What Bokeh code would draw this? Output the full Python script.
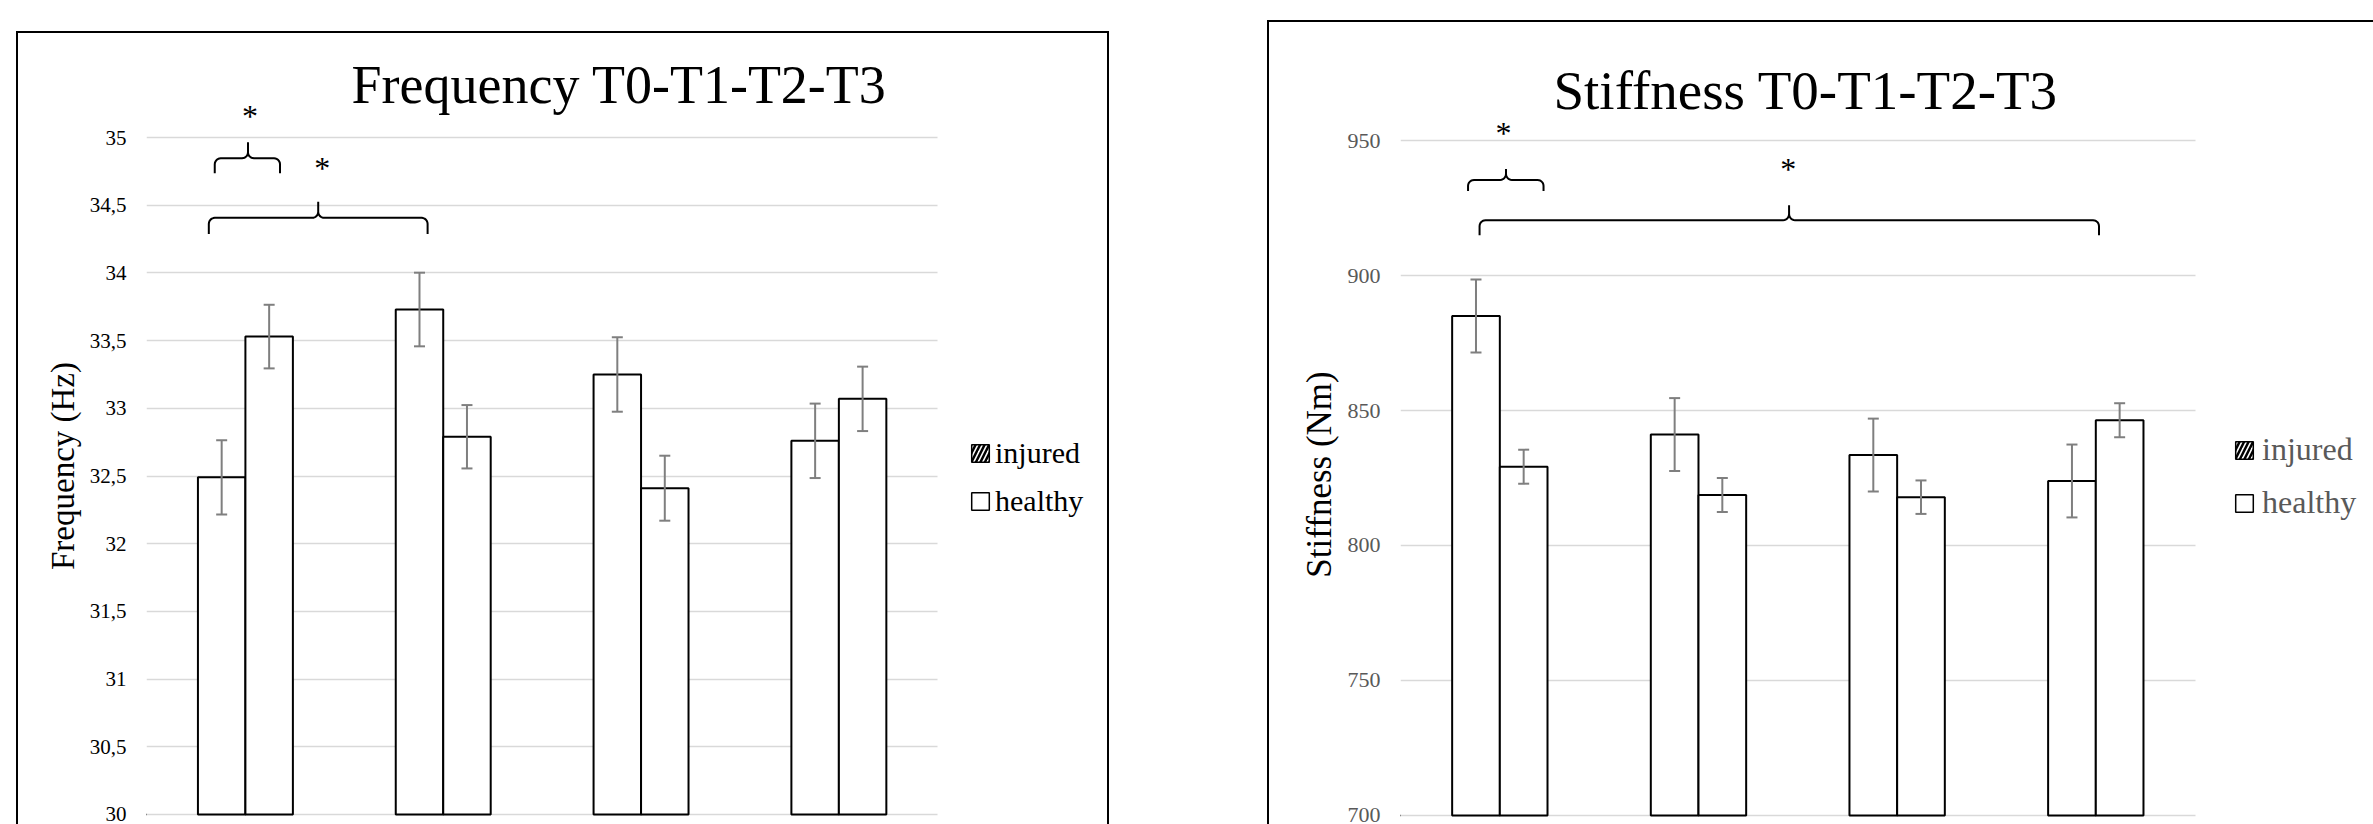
from math import pi, cos, sin
from bokeh.plotting import figure
from bokeh.models import (FixedTicker, Legend, LegendItem, Whisker, TeeHead,
                          ColumnDataSource, Range1d, Spacer, Title)
from bokeh.layouts import row, column
from bokeh.embed import file_html
from bokeh.resources import INLINE
from bokeh.core.properties import value

# ---------------- data ----------------
categories = ["T0", "T1", "T2", "T3"]
series = ["injured", "healthy"]

freq_injured = [32.49, 33.73, 33.25, 32.76]
freq_injured_err = [0.275, 0.272, 0.275, 0.275]
freq_healthy = [33.53, 32.79, 32.41, 33.07]
freq_healthy_err = [0.235, 0.234, 0.240, 0.238]

stiff_injured = [885.0, 841.1, 833.5, 823.9]
stiff_injured_err = [13.5, 13.5, 13.5, 13.5]
stiff_healthy = [829.2, 818.7, 817.9, 846.4]
stiff_healthy_err = [6.3, 6.3, 6.2, 6.3]

freq_ticks = [30, 30.5, 31, 31.5, 32, 32.5, 33, 33.5, 34, 34.5, 35]
freq_tick_labels = ["30", "30,5", "31", "31,5", "32", "32,5", "33", "33,5", "34", "34,5", "35"]
stiff_ticks = [700, 750, 800, 850, 900, 950]
stiff_tick_labels = ["700", "750", "800", "850", "900", "950"]

freq_title = "Frequency T0-T1-T2-T3"
stiff_title = "Stiffness T0-T1-T2-T3"
freq_ylabel = "Frequency (Hz)"
stiff_ylabel = "Stiffness (Nm)"

# significance brackets (x in category-index units, y in data units)
freq_br_x0 = [0.345, 0.315]
freq_br_x1 = [0.675, 1.421]
freq_br_tip = [0.513, 0.868]
freq_br_y = [34.847, 34.407]
freq_star_x = [0.523, 0.888]
freq_star_y = [35.163, 34.778]

stiff_br_x0 = [0.340, 0.398]
stiff_br_x1 = [0.720, 3.516]
stiff_br_tip = [0.531, 1.956]
stiff_br_y = [935.4, 920.5]
stiff_star_x = [0.518, 1.952]
stiff_star_y = [952.7, 939.6]

FONT = "Liberation Serif"
GRID = "#d9d9d9"
ERR = "#7f7f7f"
BAR_OFF = 0.12
BAR_W = 0.24
N = len(categories)


def brace(x0, x1, tip, y, drop, rise, rx, ry, n=6):
    xs, ys = [x0], [y - drop]
    for k in range(n + 1):
        a = pi - (pi / 2) * k / n
        xs.append(x0 + rx + rx * cos(a)); ys.append(y - ry + ry * sin(a))
    for k in range(n + 1):
        a = -pi / 2 + (pi / 2) * k / n
        xs.append(tip - rx + rx * cos(a)); ys.append(y + ry + ry * sin(a))
    xs.append(tip); ys.append(y + rise)
    for k in range(n + 1):
        a = pi + (pi / 2) * k / n
        xs.append(tip + rx + rx * cos(a)); ys.append(y + ry + ry * sin(a))
    for k in range(n + 1):
        a = pi / 2 - (pi / 2) * k / n
        xs.append(x1 - rx + rx * cos(a)); ys.append(y - ry + ry * sin(a))
    xs.append(x1); ys.append(y - drop)
    return xs, ys


def panel(width, height, border_lr, border_t, mb_left, mb_top, grid_w, y_range, base,
          inj, inj_err, hea, hea_err, ticks, tick_labels, tick_color, tick_size,
          ylabel, ylabel_size, ylabel_standoff, title, title_offset, title_size,
          title_standoff,
          br_x0, br_x1, br_tip, br_y, br_drop_px, br_rise_px, star_x, star_y,
          leg_color, leg_size, leg_loc, leg_label_h, leg_spacing, leg_standoff,
          styles):
    canvas_w = width - border_lr
    canvas_h = height - border_t
    frame_w = canvas_w - mb_left
    frame_h = canvas_h - mb_top
    x_end = N * frame_w / grid_w
    p = figure(width=width, height=height, x_range=Range1d(0, x_end),
               y_range=Range1d(*y_range), output_backend="svg", toolbar_location=None,
               title=None, x_axis_location=None, min_border_left=mb_left,
               min_border_right=0, min_border_top=mb_top, min_border_bottom=0,
               outline_line_color=None, background_fill_color="white",
               border_fill_color="white", styles=styles)
    px_x = grid_w / N
    px_y = frame_h / (y_range[1] - y_range[0])

    t = Title(text=title, text_font=FONT, text_font_size=title_size,
              text_font_style="normal", text_color="black", align="left",
              offset=title_offset, vertical_align="bottom")
    try:
        t.standoff = title_standoff
    except Exception:
        t.standoff = 0
    p.add_layout(t, "above")

    p.xgrid.visible = False
    g = p.ygrid[0]
    g.ticker = FixedTicker(ticks=ticks)
    g.grid_line_color = GRID
    g.grid_line_width = 1.5
    if "cross_bounds" in g.properties():
        g.cross_bounds = (0, N)
    else:
        g.visible = False
        p.segment(x0=[0] * len(ticks), x1=[N] * len(ticks), y0=ticks, y1=ticks,
                  line_color=GRID, line_width=1.5, level="underlay")

    ax = p.yaxis[0]
    ax.ticker = FixedTicker(ticks=ticks)
    ax.major_label_overrides = {t_: l for t_, l in zip(ticks, tick_labels)}
    ax.axis_line_color = None
    ax.major_tick_line_color = None
    ax.minor_tick_line_color = None
    ax.major_tick_out = 0
    ax.major_tick_in = 0
    ax.major_label_standoff = 20
    ax.major_label_text_font = FONT
    ax.major_label_text_font_size = tick_size
    ax.major_label_text_color = tick_color
    ax.axis_label = ylabel
    ax.axis_label_text_font = FONT
    ax.axis_label_text_font_size = ylabel_size
    ax.axis_label_text_font_style = "normal"
    ax.axis_label_text_color = "black"
    ax.axis_label_standoff = ylabel_standoff

    xi = [i + 0.5 - BAR_OFF for i in range(N)]
    xh = [i + 0.5 + BAR_OFF for i in range(N)]
    p.vbar(x=xi, top=inj, bottom=base, width=BAR_W, fill_color="white",
           line_color="black", line_width=2)
    p.vbar(x=xh, top=hea, bottom=base, width=BAR_W, fill_color="white",
           line_color="black", line_width=2)

    for xs_, v, e in ((xi, inj, inj_err), (xh, hea, hea_err)):
        src = ColumnDataSource(dict(x=xs_, upper=[a + b for a, b in zip(v, e)],
                                    lower=[a - b for a, b in zip(v, e)]))
        w = Whisker(source=src, base="x", upper="upper", lower="lower",
                    dimension="height", line_color=ERR, line_width=2, level="overlay",
                    upper_head=TeeHead(size=11, line_color=ERR, line_width=2),
                    lower_head=TeeHead(size=11, line_color=ERR, line_width=2))
        p.add_layout(w)

    rx = 6 / px_x
    ry = 6 / px_y
    bxs, bys = [], []
    for x0, x1, tp, yy, dr, rs in zip(br_x0, br_x1, br_tip, br_y, br_drop_px, br_rise_px):
        a, b = brace(x0, x1, tp, yy, dr / px_y, rs / px_y, rx, ry)
        bxs.append(a); bys.append(b)
    p.multi_line(xs=bxs, ys=bys, line_color="black", line_width=2)
    p.text(x=star_x, y=star_y, text=["*"] * len(star_x), text_font=value(FONT),
           text_font_size="32px", text_align="center", text_baseline="alphabetic",
           text_color="black")

    # legend-only renderers placed outside the visible x range
    r_inj = p.vbar(x=[-10], top=[base], bottom=base, width=0.1, fill_color="white",
                   line_color="black", line_width=1.5, hatch_pattern="/",
                   hatch_color="black", hatch_weight=2.5, hatch_scale=9)
    r_hea = p.vbar(x=[-10], top=[base], bottom=base, width=0.1, fill_color="white",
                   line_color="black", line_width=1.5)
    leg = Legend(items=[LegendItem(label=series[0], renderers=[r_inj]),
                        LegendItem(label=series[1], renderers=[r_hea])],
                 location=leg_loc, orientation="vertical",
                 label_text_font=FONT, label_text_font_size=leg_size,
                 label_text_color=leg_color, label_height=leg_label_h,
                 glyph_width=22, glyph_height=22, spacing=leg_spacing,
                 label_standoff=leg_standoff, padding=0, margin=0,
                 border_line_color=None, background_fill_alpha=0)
    p.add_layout(leg, "center")
    return p


BORDER = "2px solid black"
p1 = panel(width=1093, height=793, border_lr=4, border_t=2, mb_left=128, mb_top=72,
           grid_w=788, y_range=(29.911, 35.237), base=30,
           inj=freq_injured, inj_err=freq_injured_err, hea=freq_healthy, hea_err=freq_healthy_err,
           ticks=freq_ticks, tick_labels=freq_tick_labels, tick_color="black", tick_size="21px",
           ylabel=freq_ylabel, ylabel_size="33px", ylabel_standoff=6,
           title=freq_title, title_offset=205, title_size="54px", title_standoff=-18,
           br_x0=freq_br_x0, br_x1=freq_br_x1, br_tip=freq_br_tip, br_y=freq_br_y,
           br_drop_px=[15, 16], br_rise_px=[16, 16], star_x=freq_star_x, star_y=freq_star_y,
           leg_color="black", leg_size="30px", leg_loc=(823, 308), leg_label_h=34,
           leg_spacing=14, leg_standoff=4,
           styles={"border-left": BORDER, "border-top": BORDER, "border-right": BORDER})

p2 = panel(width=1106, height=804, border_lr=2, border_t=2, mb_left=131, mb_top=100,
           grid_w=793, y_range=(695.91, 956.69), base=700,
           inj=stiff_injured, inj_err=stiff_injured_err, hea=stiff_healthy, hea_err=stiff_healthy_err,
           ticks=stiff_ticks, tick_labels=stiff_tick_labels, tick_color="#595959", tick_size="22px",
           ylabel=stiff_ylabel, ylabel_size="35px", ylabel_standoff=6,
           title=stiff_title, title_offset=153, title_size="55px", title_standoff=4,
           br_x0=stiff_br_x0, br_x1=stiff_br_x1, br_tip=stiff_br_tip, br_y=stiff_br_y,
           br_drop_px=[11, 15], br_rise_px=[11, 15], star_x=stiff_star_x, star_y=stiff_star_y,
           leg_color="#595959", leg_size="32px", leg_loc=(833, 305), leg_label_h=36,
           leg_spacing=16, leg_standoff=7,
           styles={"border-left": BORDER, "border-top": BORDER})

layout = row(Spacer(width=16), column(Spacer(height=31), p1), Spacer(width=158),
             column(Spacer(height=20), p2))

open("out.html", "w").write(file_html(layout, INLINE))
